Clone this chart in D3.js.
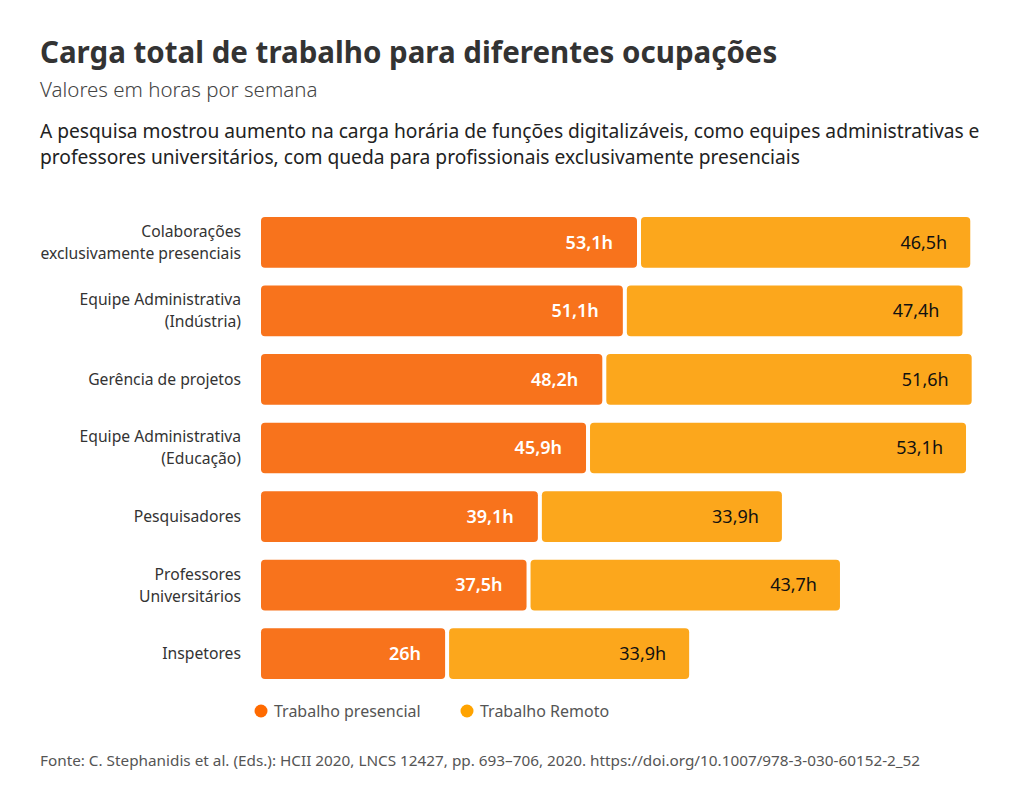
<!DOCTYPE html>
<html><head><meta charset="utf-8">
<script src="https://cdn.jsdelivr.net/npm/d3@7"></script>
<style>body{margin:0;background:#fff;} svg{display:block;font-family:"Noto Sans",sans-serif;}</style>
</head><body><svg id="c" width="1024" height="800"></svg>
<script>
const categories = [
  ["Colaborações","exclusivamente presenciais"],
  ["Equipe Administrativa","(Indústria)"],
  ["Gerência de projetos"],
  ["Equipe Administrativa","(Educação)"],
  ["Pesquisadores"],
  ["Professores","Universitários"],
  ["Inspetores"]
];
const presencial = [53.1, 51.1, 48.2, 45.9, 39.1, 37.5, 26];
const remoto = [46.5, 47.4, 51.6, 53.1, 33.9, 43.7, 33.9];
const seriesNames = ["Trabalho presencial", "Trabalho Remoto"];
const colors = ["#F8731C", "#FCA71C"];
const legendColors = ["#FF6A00", "#FFA300"];
const fmt = v => String(v).replace(".", ",") + "h";

const svg = d3.select("#c");
svg.append("text").attr("x",40).attr("y",63).attr("font-size",29.5).attr("font-weight",700).attr("fill","#333")
  .text("Carga total de trabalho para diferentes ocupações");
svg.append("text").attr("x",40).attr("y",97).attr("font-size",20.5).attr("font-weight",300).attr("fill","#444")
  .text("Valores em horas por semana");
const desc = ["A pesquisa mostrou aumento na carga horária de funções digitalizáveis, como equipes administrativas e",
  "professores universitários, com queda para profissionais exclusivamente presenciais"];
desc.forEach((t,i)=>svg.append("text").attr("x",40).attr("y",138+i*26).attr("font-size",19.2).attr("fill","#222").text(t));

const x0 = 261, gap = 4;
const x = d3.scaleLinear().domain([0, 53.1]).range([0, 376]);
const y = d3.scaleBand().domain(d3.range(categories.length)).range([208, 688]).paddingInner(0.26).paddingOuter(0.13);

const rows = svg.append("g").selectAll("g").data(categories).join("g")
  .attr("transform",(d,i)=>`translate(0,${y(i)})`);
const bh = y.bandwidth();
rows.append("rect").attr("x",x0).attr("y",0).attr("height",bh).attr("rx",4)
  .attr("width",(d,i)=>x(presencial[i])).attr("fill",colors[0]);
rows.append("rect").attr("x",(d,i)=>x0+x(presencial[i])+gap).attr("y",0).attr("height",bh).attr("rx",4)
  .attr("width",(d,i)=>x(remoto[i])).attr("fill",colors[1]);
rows.append("text").attr("x",(d,i)=>x0+x(presencial[i])-24).attr("y",bh/2).attr("dy","0.35em")
  .attr("text-anchor","end").attr("font-size",18).attr("font-weight",600).attr("fill","#fff")
  .text((d,i)=>fmt(presencial[i]));
rows.append("text").attr("x",(d,i)=>x0+x(presencial[i])+gap+x(remoto[i])-23).attr("y",bh/2).attr("dy","0.35em")
  .attr("text-anchor","end").attr("font-size",18).attr("fill","#111")
  .text((d,i)=>fmt(remoto[i]));
rows.each(function(d){
  const t = d3.select(this).append("text").attr("text-anchor","end").attr("font-size",15.7).attr("fill","#333");
  const n = d.length;
  d.forEach((line,k)=>t.append("tspan").attr("x",241).attr("y",bh/2 + (k-(n-1)/2)*22).attr("dy","0.35em").text(line));
});

const leg = svg.append("g").selectAll("g").data(seriesNames).join("g")
  .attr("transform",(d,i)=>`translate(${[261,467][i]},711)`);
leg.append("circle").attr("r",6.5).attr("fill",(d,i)=>legendColors[i]);
leg.append("text").attr("x",13).attr("dy","0.35em").attr("font-size",16).attr("fill","#555").text(d=>d);

svg.append("text").attr("x",40).attr("y",766).attr("font-size",15.3).attr("fill","#555")
  .text("Fonte: C. Stephanidis et al. (Eds.): HCII 2020, LNCS 12427, pp. 693–706, 2020. https://doi.org/10.1007/978-3-030-60152-2_52");
</script></body></html>
